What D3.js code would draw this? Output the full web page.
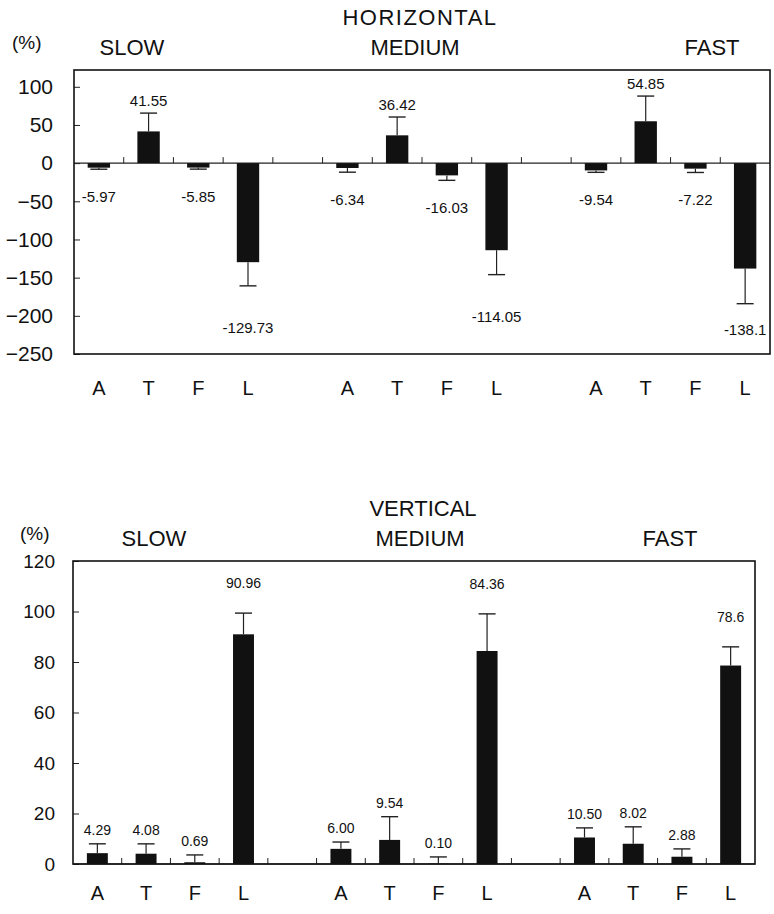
<!DOCTYPE html>
<html>
<head>
<meta charset="utf-8">
<script src="https://cdn.jsdelivr.net/npm/d3@7"></script>
<style>
  body { margin: 0; background: #fff; }
  svg { display: block; font-family: "Liberation Sans", Arial, sans-serif; }
</style>
</head>
<body>
<div id="chart"></div>
<script>
'use strict';

// Data: 3 speeds x 4 categories, mean and error bar.
var speeds     = ['SLOW', 'MEDIUM', 'FAST'];
var categories = ['A', 'T', 'F', 'L'];

var hMeans  = [-5.97, 41.55, -5.85, -129.73, -6.34, 36.42, -16.03, -114.05, -9.54, 54.85, -7.22, -138.1];
var hErrors = [2, 24, 2, 31, 5.5, 24, 6.5, 32, 2.5, 33, 5, 46];
var hLabels = ['-5.97', '41.55', '-5.85', '-129.73', '-6.34', '36.42', '-16.03', '-114.05', '-9.54', '54.85', '-7.22', '-138.1'];
var hTicks  = [100, 50, 0, -50, -100, -150, -200, -250];

var vMeans  = [4.29, 4.08, 0.69, 90.96, 6.00, 9.54, 0.10, 84.36, 10.50, 8.02, 2.88, 78.6];
var vErrors = [3.7, 3.9, 2.9, 8.4, 2.7, 9.2, 2.7, 14.7, 3.8, 6.7, 3.1, 7.4];
var vLabels = ['4.29', '4.08', '0.69', '90.96', '6.00', '9.54', '0.10', '84.36', '10.50', '8.02', '2.88', '78.6'];
var vTicks  = [0, 20, 40, 60, 80, 100, 120];

var svg = d3.select('#chart').append('svg')
    .attr('width', 774)
    .attr('height', 914);

// 14 slots: 4 bars, 1 empty, 4 bars, 1 empty, 4 bars
function slotOf(i) {
    return Math.floor(i / 4) * 5 + (i % 4);
}

function drawPanel(opt) {
    var x = d3.scaleBand()
        .domain(d3.range(14))
        .range([opt.left, opt.right])
        .padding(0);

    var y = d3.scaleLinear()
        .domain(opt.domain)
        .range([opt.bottom, opt.top]);

    var g = svg.append('g');
    var barW = x.bandwidth() * opt.barFrac;
    var y0 = y(0);

    var rows = opt.means.map(function (m, i) {
        return {value: m, error: opt.errors[i], label: opt.labels[i], slot: slotOf(i), cat: categories[i % 4]};
    });

    // Zero line with small ticks between the slots.
    g.append('line')
        .attr('x1', opt.left).attr('x2', opt.right)
        .attr('y1', y0).attr('y2', y0)
        .attr('stroke', '#222').attr('stroke-width', 1.2);

    g.selectAll('.sep')
        .data(d3.range(1, 14))
        .enter().append('line')
        .attr('x1', function (d) { return x(d); })
        .attr('x2', function (d) { return x(d); })
        .attr('y1', y0).attr('y2', y0 - 6)
        .attr('stroke', '#222').attr('stroke-width', 1);

    // Bars
    g.selectAll('.bar')
        .data(rows)
        .enter().append('rect')
        .attr('class', 'bar')
        .attr('x', function (d) { return x(d.slot) + (x.bandwidth() - barW) / 2; })
        .attr('y', function (d) { return Math.min(y(d.value), y0); })
        .attr('width', barW)
        .attr('height', function (d) { return Math.abs(y(d.value) - y0); })
        .attr('fill', '#111');

    // Error bars (one-sided, away from zero)
    var err = g.selectAll('.err')
        .data(rows)
        .enter().append('g')
        .attr('transform', function (d) { return 'translate(' + (x(d.slot) + x.bandwidth() / 2) + ',0)'; });

    err.append('line')
        .attr('x1', 0).attr('x2', 0)
        .attr('y1', function (d) { return y(d.value); })
        .attr('y2', function (d) { return y(d.value + Math.sign(d.value) * d.error); })
        .attr('stroke', '#222').attr('stroke-width', 1.2);

    err.append('line')
        .attr('x1', -8.5).attr('x2', 8.5)
        .attr('y1', function (d) { return y(d.value + Math.sign(d.value) * d.error); })
        .attr('y2', function (d) { return y(d.value + Math.sign(d.value) * d.error); })
        .attr('stroke', '#222').attr('stroke-width', 1.4);

    // Value labels
    err.append('text')
        .attr('text-anchor', 'middle')
        .attr('font-size', opt.labelSize)
        .attr('fill', '#111')
        .attr('y', function (d) { return opt.labelY(d, y(d.value + Math.sign(d.value) * d.error)); })
        .text(function (d) { return d.label; });

    // Category letters
    g.selectAll('.cat')
        .data(rows)
        .enter().append('text')
        .attr('x', function (d) { return x(d.slot) + x.bandwidth() / 2; })
        .attr('y', opt.bottom + opt.catOffset)
        .attr('text-anchor', 'middle')
        .attr('font-size', 20)
        .attr('fill', '#111')
        .text(function (d) { return d.cat; });

    // Left axis with inward ticks
    var axis = g.append('g')
        .attr('transform', 'translate(' + opt.left + ',0)')
        .call(d3.axisLeft(y).tickValues(opt.ticks).tickSizeInner(-6).tickSizeOuter(0).tickPadding(opt.tickPad));

    axis.select('.domain').remove();
    axis.selectAll('line').attr('stroke', '#222');
    axis.selectAll('text')
        .attr('font-size', opt.tickSize)
        .attr('fill', '#111')
        .attr('font-family', '"Liberation Sans", Arial, sans-serif');

    // Frame
    g.append('rect')
        .attr('x', opt.left).attr('y', opt.top)
        .attr('width', opt.right - opt.left)
        .attr('height', opt.bottom - opt.top)
        .attr('fill', 'none')
        .attr('stroke', '#111').attr('stroke-width', 1.6);

    // Titles
    g.append('text')
        .attr('x', opt.unitX).attr('y', opt.top - 21)
        .attr('font-size', 19).attr('fill', '#111')
        .text('(%)');

    g.append('text')
        .attr('x', opt.titleX).attr('y', opt.top - 45)
        .attr('text-anchor', 'middle')
        .attr('font-size', 22).attr('fill', '#111')
        .attr('letter-spacing', opt.titleSpacing)
        .text(opt.title);

    var speedX = opt.speedX;
    g.selectAll('.speed')
        .data(speeds)
        .enter().append('text')
        .attr('x', function (d, i) { return speedX[i]; })
        .attr('y', opt.top - 15)
        .attr('text-anchor', 'middle')
        .attr('font-size', 22).attr('fill', '#111')
        .text(function (d) { return d; });
}

drawPanel({
    left: 74, right: 770, top: 70, bottom: 354,
    domain: [-250, 122],
    means: hMeans, errors: hErrors, labels: hLabels, ticks: hTicks,
    barFrac: 0.45, labelSize: 15, tickSize: 21, tickPad: 21, catOffset: 41,
    title: 'HORIZONTAL', titleX: 420, titleSpacing: 1.5,
    speedX: [132, 415, 712], unitX: 12,
    labelY: function (d, cap) {
        if (d.value > 0) {
            return cap - 7;
        }
        if (d.value > -50) {
            return cap + 33;
        }
        return Math.min(cap + 47, 335);
    }
});

drawPanel({
    left: 73, right: 755, top: 561, bottom: 864,
    domain: [0, 120],
    means: vMeans, errors: vErrors, labels: vLabels, ticks: vTicks,
    barFrac: 0.43, labelSize: 14, tickSize: 19, tickPad: 18, catOffset: 36,
    title: 'VERTICAL', titleX: 423, titleSpacing: 0,
    speedX: [154, 420, 670], unitX: 20,
    labelY: function (d, cap) {
        return d.value > 50 ? cap - 25 : cap - 9;
    }
});
</script>
</body>
</html>
